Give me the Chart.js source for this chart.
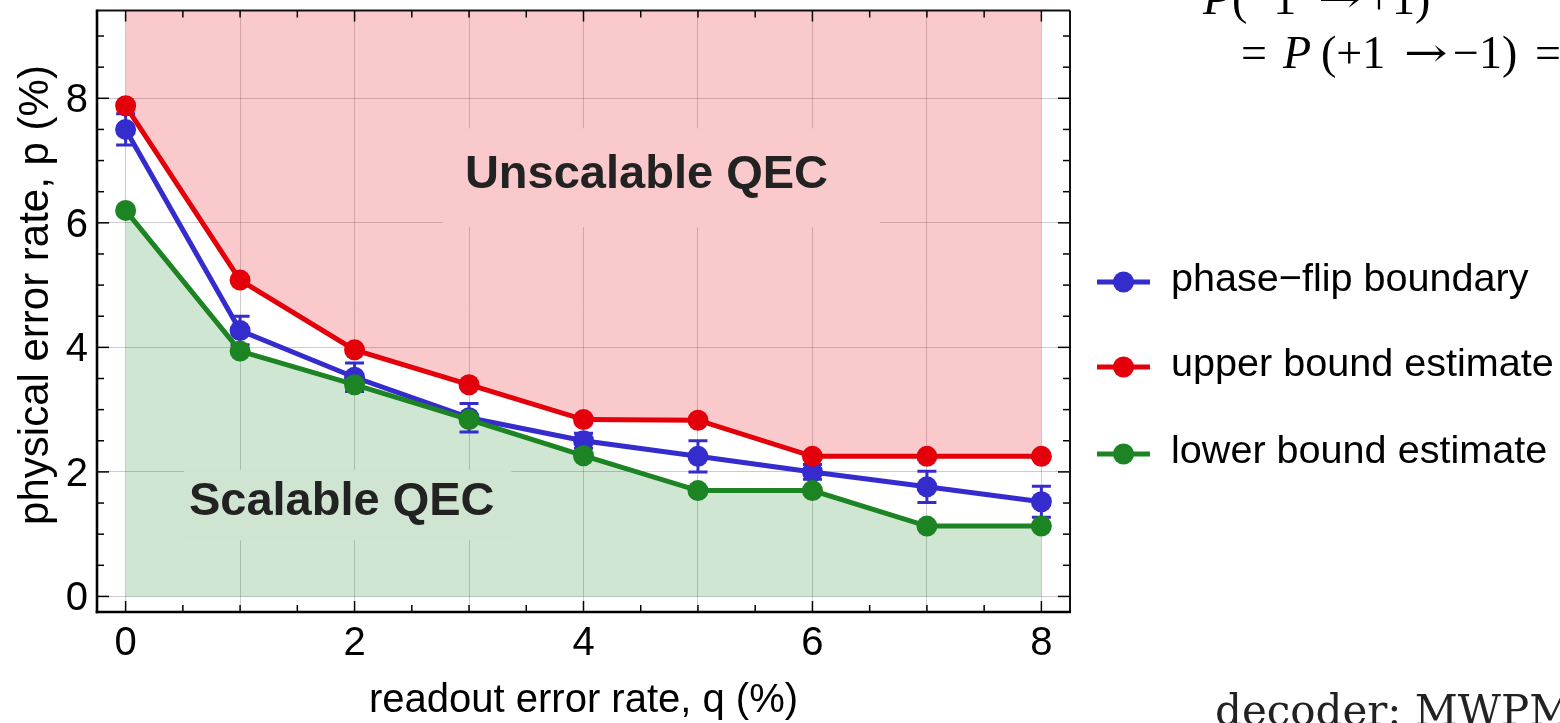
<!DOCTYPE html>
<html><head><meta charset="utf-8">
<script src="https://cdn.jsdelivr.net/npm/chart.js@4.4.1/dist/chart.umd.min.js"></script>
<style>html,body{margin:0;padding:0;background:#fff;overflow:hidden}#wrap{position:relative;width:1560px;height:723px}</style>
</head><body><div id="wrap"><canvas id="c"></canvas></div>
<script>
// ---- data ----
const qValues = [0, 1, 2, 3, 4, 5, 6, 7, 8];
const phaseFlip = [7.5, 4.27, 3.52, 2.87, 2.5, 2.25, 2.0, 1.76, 1.52];
const phaseFlipErr = [0.25, 0.23, 0.23, 0.23, 0.12, 0.25, 0.12, 0.25, 0.25];
const upperBound = [7.88, 5.08, 3.96, 3.4, 2.84, 2.83, 2.25, 2.25, 2.25];
const lowerBound = [6.2, 3.94, 3.4, 2.84, 2.26, 1.7, 1.7, 1.13, 1.13];
const xTicks = [0, 1, 2, 3, 4, 5, 6, 7, 8];
const xTickLabels = ['0', '', '2', '', '4', '', '6', '', '8'];
const yTicks = [0, 2, 4, 6, 8];
const yTickLabels = ['0', '2', '4', '6', '8'];
const seriesNames = ['phase\u2212flip boundary', 'upper bound estimate', 'lower bound estimate'];
const regionLabels = ['Unscalable QEC', 'Scalable QEC'];
const xTitle = 'readout error rate, q (%)';
const yTitle = 'physical error rate, p (%)';

// ---- style ----
const FONT = '"Liberation Sans", Arial, sans-serif';
const BLUE = 'rgb(52,44,205)', RED = 'rgb(228,0,10)', GREEN = 'rgb(28,132,34)';
const pinkBase = [230, 30, 40], pinkA = 0.24;
const greenBase = [0, 120, 20], greenA = 0.19;
const rgba = (c, a) => `rgba(${c[0]},${c[1]},${c[2]},${a})`;
const comp = (c, a) => `rgb(${c.map(v => Math.round(255 - (255 - v) * a)).join(',')})`;
const GRID = 'rgba(0,0,0,0.2)';

const pts = arr => qValues.map((q, i) => ({x: q, y: arr[i]}));

const errorBars = {
  id: 'errorBars',
  afterDatasetDraw(chart, args) {
    if (args.index !== 0) return;
    const {ctx, scales: {x, y}} = chart;
    ctx.save();
    ctx.strokeStyle = BLUE; ctx.lineWidth = 3;
    qValues.forEach((q, i) => {
      const px = x.getPixelForValue(q);
      const top = y.getPixelForValue(phaseFlip[i] + phaseFlipErr[i]);
      const bot = y.getPixelForValue(phaseFlip[i] - phaseFlipErr[i]);
      ctx.beginPath();
      ctx.moveTo(px, top); ctx.lineTo(px, bot);
      ctx.moveTo(px - 9.5, top); ctx.lineTo(px + 9.5, top);
      ctx.moveTo(px - 9.5, bot); ctx.lineTo(px + 9.5, bot);
      ctx.stroke();
    });
    ctx.restore();
  }
};

const regions = {
  id: 'regions',
  afterDatasetsDraw(chart) {
    const {ctx, scales: {x, y}} = chart;
    const items = [
      {text: regionLabels[0], tx: 4.55, ty: 6.77, box: [2.767, 7.52, 6.59, 5.93], col: comp(pinkBase, pinkA)},
      {text: regionLabels[1], tx: 1.888, ty: 1.523, box: [0.51, 2.036, 3.37, 0.898], col: comp(greenBase, greenA)}
    ];
    ctx.save();
    items.forEach(it => {
      const l = x.getPixelForValue(it.box[0]), t = y.getPixelForValue(it.box[1]);
      const r = x.getPixelForValue(it.box[2]), b = y.getPixelForValue(it.box[3]);
      ctx.fillStyle = it.col;
      ctx.fillRect(l, t, r - l, b - t);
      ctx.fillStyle = '#222';
      ctx.font = 'bold 47px ' + FONT;
      ctx.textAlign = 'center'; ctx.textBaseline = 'middle';
      ctx.fillText(it.text, x.getPixelForValue(it.tx), y.getPixelForValue(it.ty));
    });
    ctx.restore();
  }
};

const frameAndText = {
  id: 'frameAndText',
  afterDraw(chart) {
    const {ctx, chartArea: a, scales: {x, y}} = chart;
    ctx.save();
    const line = (x1, y1, x2, y2) => { ctx.beginPath(); ctx.moveTo(x1, y1); ctx.lineTo(x2, y2); ctx.stroke(); };
    // ticks
    ctx.strokeStyle = '#000'; ctx.lineWidth = 1.5;
    for (let v = 0; v <= 8.001; v += 0.5) {
      const px = x.getPixelForValue(v);
      const L = Math.abs(v % 2) < 1e-9 ? 11 : 7;
      line(px, a.bottom, px, a.bottom - L);
      line(px, a.top, px, a.top + L);
    }
    for (let v = 0; v <= 9.001; v += 0.5) {
      const py = y.getPixelForValue(v);
      const L = Math.abs(v % 2) < 1e-9 ? 12 : 7;
      line(a.left, py, a.left + L, py);
      line(a.right, py, a.right - L, py);
    }
    // frame
    ctx.lineWidth = 2;
    ctx.strokeStyle = '#111';
    line(a.left, a.top, a.right, a.top);
    line(a.right, a.top, a.right, a.bottom);
    ctx.lineWidth = 2.6; ctx.strokeStyle = '#000';
    line(a.left, a.top - 1, a.left, a.bottom + 1.3);
    line(a.left - 1.3, a.bottom, a.right + 1, a.bottom);

    // axis titles
    ctx.fillStyle = '#000';
    ctx.textAlign = 'center'; ctx.textBaseline = 'middle';
    ctx.font = '40px ' + FONT;
    ctx.fillText(xTitle, (a.left + a.right) / 2, 701);
    ctx.save();
    ctx.translate(36, 295);
    ctx.rotate(-Math.PI / 2);
    ctx.font = '42px ' + FONT;
    ctx.fillText(yTitle, 0, 0);
    ctx.restore();

    // legend
    const cols = [BLUE, RED, GREEN];
    const rowY = [282, 367, 454];
    cols.forEach((c, i) => {
      ctx.strokeStyle = c; ctx.lineWidth = 5;
      line(1097, rowY[i], 1150, rowY[i]);
      ctx.fillStyle = c;
      ctx.beginPath(); ctx.arc(1123.5, rowY[i], 10.5, 0, Math.PI * 2); ctx.fill();
      ctx.fillStyle = '#000';
      ctx.textAlign = 'left'; ctx.textBaseline = 'middle';
      ctx.font = '39.6px ' + FONT;
      ctx.fillText(seriesNames[i], 1171, rowY[i] - 2);
    });

    // surrounding page text (cropped)
    const SERIF = '"Liberation Serif", "DejaVu Serif", serif';
    const arrow = (ax, ay) => {
      ctx.save();
      ctx.translate(ax, ay);
      ctx.scale(1.3, 1);
      ctx.font = '40px "DejaVu Serif", serif';
      ctx.fillText('\u2192', 0, 0);
      ctx.restore();
    };
    ctx.fillStyle = '#000';
    ctx.textBaseline = 'alphabetic'; ctx.textAlign = 'left';
    // first line (mostly cut off at top)
    ctx.font = 'italic 46px ' + SERIF; ctx.fillText('P', 1203, 14);
    ctx.font = '46px ' + SERIF; ctx.fillText('(\u22121', 1232, 14);
    arrow(1318, 12);
    ctx.font = '46px ' + SERIF; ctx.fillText('+1)', 1366, 14);
    // second line
    ctx.font = '46px ' + SERIF; ctx.fillText('=', 1241, 68);
    ctx.font = 'italic 46px ' + SERIF; ctx.fillText('P', 1283, 68);
    ctx.font = '46px ' + SERIF; ctx.fillText('(+1', 1321, 68);
    arrow(1404, 66);
    ctx.font = '46px ' + SERIF; ctx.fillText('\u22121)', 1453, 68);
    ctx.fillText('=', 1535, 68);
    ctx.font = '42px "DejaVu Serif", serif';
    ctx.fillStyle = '#222';
    ctx.fillText('decoder: MWPM', 1215, 725);
    ctx.restore();
  }
};

new Chart(document.getElementById('c'), {
  type: 'line',
  data: {
    datasets: [
      {label: seriesNames[0], data: pts(phaseFlip), borderColor: BLUE, backgroundColor: BLUE,
        pointBackgroundColor: BLUE, pointBorderColor: BLUE, pointRadius: 10.5, pointBorderWidth: 0,
        borderWidth: 5, fill: false, order: 2, tension: 0},
      {label: seriesNames[1], data: pts(upperBound), borderColor: RED, backgroundColor: rgba(pinkBase, pinkA),
        pointBackgroundColor: RED, pointBorderColor: RED, pointRadius: 10.5, pointBorderWidth: 0,
        borderWidth: 5, fill: 'end', order: 1, tension: 0},
      {label: seriesNames[2], data: pts(lowerBound), borderColor: GREEN, backgroundColor: rgba(greenBase, greenA),
        pointBackgroundColor: GREEN, pointBorderColor: GREEN, pointRadius: 10.5, pointBorderWidth: 0,
        borderWidth: 5, fill: 'origin', order: 0, tension: 0}
    ]
  },
  options: {
    responsive: true, maintainAspectRatio: false, animation: false,
    layout: {padding: {left: 0, right: 490, top: 8, bottom: 0}},
    plugins: {legend: {display: false}, tooltip: {enabled: false}, filler: {drawTime: 'beforeDatasetsDraw'}},
    scales: {
      x: {type: 'linear', min: -0.25, max: 8.25,
        afterBuildTicks: s => { s.ticks = xTicks.map(v => ({value: v})); },
        afterFit: s => { s.height = 111; s.paddingLeft = 0; s.paddingRight = 0; },
        grid: {color: GRID, lineWidth: 1, drawTicks: false},
        border: {display: false},
        ticks: {padding: 8, color: '#000', font: {family: FONT, size: 40}, autoSkip: false, maxRotation: 0,
          callback: (v, i) => xTickLabels[i]}
      },
      y: {type: 'linear', min: -0.25, max: 9.41,
        afterBuildTicks: s => { s.ticks = yTicks.map(v => ({value: v})); },
        afterFit: s => { s.width = 97; s.paddingTop = 0; s.paddingBottom = 0; },
        grid: {color: GRID, lineWidth: 1, drawTicks: false},
        border: {display: false},
        ticks: {padding: 9, labelOffset: 3, color: '#000', font: {family: FONT, size: 40}, autoSkip: false,
          callback: (v, i) => yTickLabels[i]}
      }
    }
  },
  plugins: [errorBars, regions, frameAndText]
});
</script>
</body></html>
